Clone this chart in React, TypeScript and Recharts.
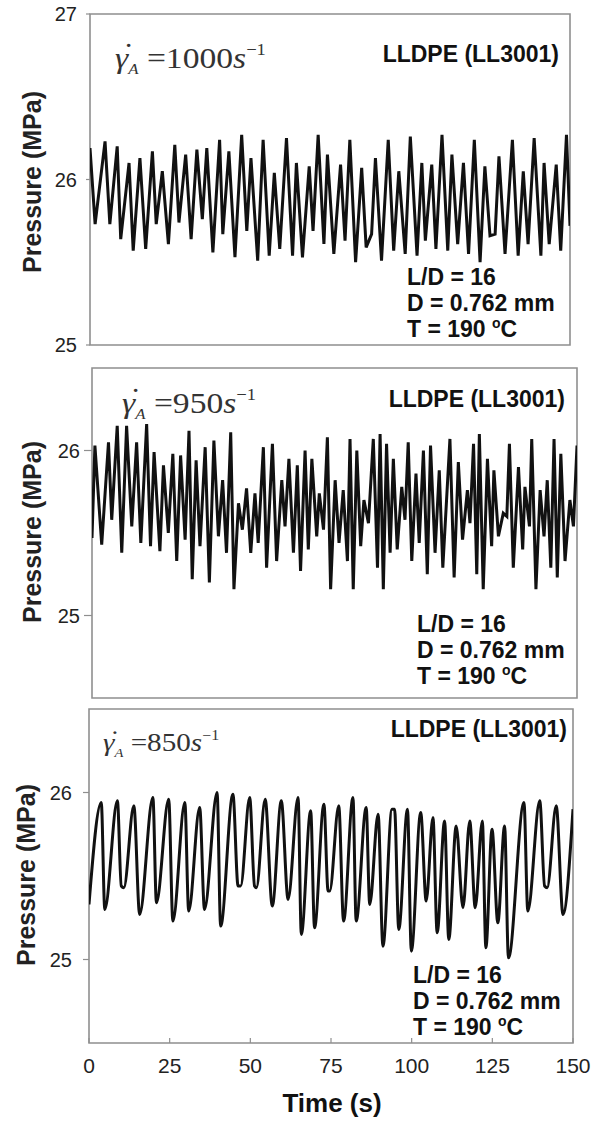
import { LineChart, Line, XAxis, YAxis, ReferenceArea } from 'recharts';

// time (s), pressure (MPa)
const rate1000: [number, number][] = [
  [0, 26.19], [1.6, 25.73], [4.7, 26.23], [6.2, 25.73], [8.5, 26.2], [9.6, 25.64],
  [12.2, 26.1], [13.5, 25.57], [15.6, 26.13], [17.4, 25.58], [19.5, 26.17], [20.7, 25.73],
  [22.6, 26.05], [24.5, 25.61], [26.5, 26.21], [27.8, 25.74], [29.9, 26.15], [31.6, 25.64],
  [33.4, 26.18], [35.1, 25.76], [36.5, 26.19], [38.4, 25.56], [40.5, 26.24], [41.5, 25.67],
  [43.4, 26.17], [45.3, 25.53], [47.4, 26.27], [49.0, 25.69], [50.3, 26.13], [52.4, 25.51],
  [54.1, 26.24], [56.0, 25.54], [57.6, 26.04], [59.3, 25.58], [61.4, 26.25], [63.3, 25.54],
  [64.5, 26.1], [66.4, 25.53], [68.5, 26.08], [69.7, 25.69], [71.3, 26.27], [73.1, 25.61],
  [74.2, 26.15], [76.2, 25.55], [78.3, 26.09], [79.7, 25.63], [81.2, 26.24], [83.0, 25.5],
  [84.9, 26.07], [86.3, 25.59], [88.0, 25.67], [89.2, 26.13], [91.1, 25.51], [93.2, 26.24],
  [94.9, 25.57], [96.5, 26.05], [98.5, 25.55], [100.1, 26.26], [102.2, 25.54], [103.7, 26.1],
  [104.8, 25.63], [106.8, 26.09], [108.1, 25.58], [110.0, 26.27], [111.8, 25.57], [113.1, 26.15],
  [114.9, 25.61], [116.7, 26.1], [118.3, 25.55], [120.1, 26.24], [121.9, 25.5], [123.4, 26.08],
  [125.0, 25.66], [126.6, 25.67], [127.8, 26.14], [129.7, 25.55], [132.0, 26.24], [133.8, 25.54],
  [135.4, 26.05], [136.9, 25.61], [138.8, 26.25], [140.9, 25.54], [141.9, 26.1], [143.5, 25.61],
  [145.7, 26.09], [147.1, 25.57], [148.9, 26.27], [150, 25.72],
];

const rate950: [number, number][] = [
  [0, 25.47], [0.9, 26.03], [3.0, 25.43], [5.1, 26.05], [6.1, 25.58], [7.8, 26.15],
  [9.2, 25.38], [10.7, 26.15], [12.3, 25.54], [13.8, 26.05], [15.1, 25.44], [16.9, 26.16],
  [18.1, 25.42], [19.2, 25.99], [21.0, 25.39], [22.1, 25.91], [23.6, 25.5], [25.0, 25.98],
  [26.2, 25.33], [27.4, 25.97], [28.8, 25.46], [30.0, 26.12], [31.0, 25.22], [32.2, 25.94],
  [33.4, 25.42], [35.0, 26.02], [36.3, 25.2], [37.7, 26.06], [39.1, 25.48], [40.4, 25.82],
  [41.6, 25.38], [42.9, 26.11], [43.9, 25.16], [45.3, 25.68], [46.5, 25.52], [47.8, 25.77],
  [49.1, 25.38], [50.4, 25.74], [51.4, 25.44], [53.0, 26.02], [54.0, 25.29], [55.8, 26.04],
  [57.1, 25.33], [58.7, 25.82], [59.7, 25.54], [60.9, 25.95], [62.3, 25.38], [63.5, 25.91],
  [64.5, 25.27], [65.9, 26.0], [66.9, 25.4], [68.0, 25.95], [69.5, 25.48], [70.3, 25.74],
  [71.6, 25.52], [72.8, 26.08], [73.8, 25.16], [75.2, 25.82], [76.4, 25.44], [77.7, 25.76],
  [79.0, 25.33], [79.8, 26.07], [80.8, 25.16], [81.9, 26.0], [83.1, 25.42], [84.1, 25.7],
  [85.5, 25.56], [87.0, 26.07], [88.3, 25.29], [89.1, 26.1], [90.1, 25.16], [91.1, 26.04],
  [92.2, 25.38], [93.2, 25.95], [94.4, 25.4], [95.8, 25.78], [96.8, 25.58], [97.8, 26.05],
  [98.9, 25.33], [100.2, 25.86], [101.2, 25.44], [102.5, 26.0], [103.7, 25.25], [104.7, 26.03],
  [106.1, 25.38], [107.4, 25.88], [108.5, 25.29], [110.7, 26.07], [112.0, 25.23], [113.3, 25.93],
  [114.6, 25.46], [116.1, 25.76], [116.9, 25.56], [118.0, 26.04], [119.0, 25.25], [119.8, 26.1],
  [121.0, 25.16], [122.3, 25.95], [123.6, 25.42], [124.3, 25.88], [125.7, 25.48], [127.2, 25.62],
  [128.3, 25.6], [129.1, 26.04], [130.3, 25.29], [131.9, 25.9], [133.2, 25.4], [133.9, 25.78],
  [135.3, 25.54], [136.0, 26.07], [137.3, 25.16], [138.6, 25.76], [139.8, 25.48], [140.8, 25.82],
  [141.9, 25.29], [142.9, 26.07], [143.9, 25.23], [145.0, 25.98], [146.3, 25.33], [147.8, 25.7],
  [148.9, 25.54], [150, 26.03],
];

const rate850: [number, number][] = [
  [0, 25.33], [3.8, 25.94], [4.9, 25.3], [8.8, 25.95], [10.0, 25.44], [10.8, 25.43],
  [13.9, 25.92], [15.7, 25.27], [19.8, 25.97], [20.9, 25.34], [24.7, 25.96], [26.0, 25.23],
  [29.7, 25.94], [30.9, 25.29], [34.3, 25.91], [35.8, 25.3], [39.7, 26.0], [40.8, 25.2],
  [44.6, 25.99], [46.2, 25.44], [47.0, 25.44], [49.8, 25.97], [51.3, 25.44], [51.9, 25.43],
  [54.6, 25.96], [56.8, 25.32], [59.6, 25.95], [61.7, 25.36], [64.8, 25.97], [65.8, 25.15],
  [68.7, 25.89], [69.9, 25.19], [72.8, 25.93], [74.1, 25.41], [74.6, 25.41], [77.4, 25.92],
  [78.9, 25.23], [81.8, 25.97], [82.8, 25.23], [85.9, 25.91], [87.0, 25.33], [89.6, 25.87],
  [91.1, 25.08], [93.9, 25.9], [94.7, 25.9], [96.0, 25.18], [98.7, 25.9], [99.9, 25.05],
  [102.8, 25.88], [104.5, 25.35], [106.6, 25.85], [107.9, 25.16], [110.2, 25.83], [111.5, 25.12],
  [113.8, 25.8], [115.9, 25.31], [118.0, 25.83], [119.7, 25.31], [121.9, 25.83], [123.0, 25.07],
  [124.9, 25.78], [126.7, 25.22], [128.8, 25.8], [130.0, 25.01], [134.8, 25.94], [136.0, 25.29],
  [139.7, 25.95], [141.2, 25.44], [142.0, 25.43], [144.8, 25.92], [146.9, 25.27], [150, 25.9],
];

const timeTicks = [0, 25, 50, 75, 100, 125, 150];
const pressureTicksTop = [25, 26, 27];
const pressureTicksLower = [25, 26];

const sans = '"Liberation Sans", Arial, sans-serif';
const serif = '"Liberation Serif", "Times New Roman", serif';
const frame = '#8f8f8f';

interface PanelProps {
  points: [number, number][];
  plotTop: number;
  plotBottom: number;
  plotLeft: number;
  plotRight: number;
  yDomain: [number, number];
  yTicks: number[];
  yTickSize: number;
  yTickMargin: number;
  showTimeLabels: boolean;
  curve: 'linear' | 'monotone';
}

function Panel({
  points,
  plotTop,
  plotBottom,
  plotLeft,
  plotRight,
  yDomain,
  yTicks,
  yTickSize,
  yTickMargin,
  showTimeLabels,
  curve,
}: PanelProps) {
  const data = points.map(([t, p]) => ({ t, p }));
  const xh = showTimeLabels ? 40 : 10;
  const top = plotTop - 10;
  const height = plotBottom - top + xh;

  return (
    <div style={{ position: 'absolute', left: 0, top }}>
      <LineChart
        width={597}
        height={height}
        data={data}
        margin={{ top: 10, right: 597 - plotRight, bottom: 0, left: 0 }}
      >
        <XAxis
          dataKey="t"
          type="number"
          domain={[0, 150]}
          ticks={timeTicks}
          interval={0}
          height={xh}
          axisLine={false}
          tickSize={-5}
          tickMargin={20}
          tickLine={{ stroke: frame, strokeWidth: 1.2 }}
          tick={showTimeLabels ? { fill: '#222', fontSize: 21, fontFamily: sans } : false}
          allowDataOverflow
        />
        <YAxis
          type="number"
          domain={yDomain}
          ticks={yTicks}
          interval={0}
          width={plotLeft}
          axisLine={false}
          tickSize={yTickSize}
          tickMargin={yTickMargin}
          tickLine={{ stroke: frame, strokeWidth: 1.2 }}
          tick={{ fill: '#222', fontSize: 20, fontFamily: sans }}
          allowDataOverflow
        />
        <ReferenceArea
          x1={0}
          x2={150}
          y1={yDomain[0]}
          y2={yDomain[1]}
          fill="none"
          stroke={frame}
          strokeWidth={1.6}
          ifOverflow="visible"
        />
        <Line
          type={curve}
          dataKey="p"
          stroke="#111"
          strokeWidth={3}
          dot={false}
          isAnimationActive={false}
        />
      </LineChart>
    </div>
  );
}

function RateLabel({ x, baseline, value, size }: { x: number; baseline: number; value: string; size: number }) {
  return (
    <div
      style={{
        position: 'absolute',
        left: x,
        top: baseline - size * 0.84,
        fontFamily: serif,
        fontSize: size,
        lineHeight: 1,
        color: '#333',
        whiteSpace: 'nowrap',
        transform: 'scaleX(1.12)',
        transformOrigin: 'left',
      }}
    >
      <span style={{ position: 'relative', fontStyle: 'italic' }}>
        γ
        <span style={{ position: 'absolute', left: '0.24em', top: '-0.06em', fontStyle: 'normal' }}>˙</span>
      </span>
      <span style={{ fontSize: size * 0.5, fontStyle: 'italic', position: 'relative', top: size * 0.22 }}>A</span>
      {' ='}
      {value}
      <i>s</i>
      <span style={{ fontSize: size * 0.55, position: 'relative', top: -size * 0.42 }}>−1</span>
    </div>
  );
}

function Material({ right, baseline }: { right: number; baseline: number }) {
  const size = 23;
  return (
    <div
      style={{
        position: 'absolute',
        right: 597 - right,
        top: baseline - size * 0.846,
        fontFamily: sans,
        fontWeight: 'bold',
        fontSize: size,
        lineHeight: 1,
        color: '#111',
        whiteSpace: 'nowrap',
      }}
    >
      LLDPE (LL3001)
    </div>
  );
}

function Conditions({ left, baseline }: { left: number; baseline: number }) {
  return (
    <div
      style={{
        position: 'absolute',
        left,
        top: baseline - 21,
        fontFamily: sans,
        fontWeight: 'bold',
        fontSize: 23,
        lineHeight: '26px',
        color: '#111',
        whiteSpace: 'nowrap',
      }}
    >
      <div>L/D = 16</div>
      <div>D = 0.762 mm</div>
      <div>
        T = 190 <span style={{ fontSize: 14, position: 'relative', top: -9 }}>o</span>C
      </div>
    </div>
  );
}

function PressureLabel({ cx, cy }: { cx: number; cy: number }) {
  return (
    <div
      style={{
        position: 'absolute',
        left: cx,
        top: cy,
        transform: 'translate(-50%, -50%) rotate(-90deg)',
        fontFamily: sans,
        fontWeight: 'bold',
        fontSize: 25,
        color: '#222',
        whiteSpace: 'nowrap',
      }}
    >
      Pressure (MPa)
    </div>
  );
}

export default function App() {
  return (
    <div
      style={{
        position: 'absolute',
        left: 0,
        top: 0,
        width: 597,
        height: 1122,
        background: '#fff',
        overflow: 'hidden',
      }}
    >
      <Panel
        points={rate1000}
        plotTop={14}
        plotBottom={345}
        plotLeft={90}
        plotRight={570}
        yDomain={[25, 27]}
        yTicks={pressureTicksTop}
        yTickSize={4}
        yTickMargin={9}
        showTimeLabels={false}
        curve="linear"
      />
      <Panel
        points={rate950}
        plotTop={368}
        plotBottom={698}
        plotLeft={92}
        plotRight={577}
        yDomain={[24.5, 26.5]}
        yTicks={pressureTicksLower}
        yTickSize={8}
        yTickMargin={4}
        showTimeLabels={false}
        curve="linear"
      />
      <Panel
        points={rate850}
        plotTop={709}
        plotBottom={1043}
        plotLeft={89}
        plotRight={573}
        yDomain={[24.5, 26.5]}
        yTicks={pressureTicksLower}
        yTickSize={6}
        yTickMargin={11}
        showTimeLabels
        curve="monotone"
      />

      <RateLabel x={115} baseline={68} value="1000" size={30} />
      <RateLabel x={122} baseline={413} value="950" size={30} />
      <RateLabel x={103} baseline={752} value="850" size={26} />

      <Material right={559} baseline={62} />
      <Material right={565} baseline={407} />
      <Material right={567} baseline={737} />

      <Conditions left={407} baseline={285} />
      <Conditions left={417} baseline={632} />
      <Conditions left={413} baseline={983} />

      <PressureLabel cx={32} cy={182} />
      <PressureLabel cx={32} cy={532} />
      <PressureLabel cx={26} cy={875} />

      <div
        style={{
          position: 'absolute',
          left: 332,
          top: 1103,
          transform: 'translate(-50%, -50%)',
          fontFamily: sans,
          fontWeight: 'bold',
          fontSize: 26,
          color: '#111',
          whiteSpace: 'nowrap',
        }}
      >
        Time (s)
      </div>
    </div>
  );
}
